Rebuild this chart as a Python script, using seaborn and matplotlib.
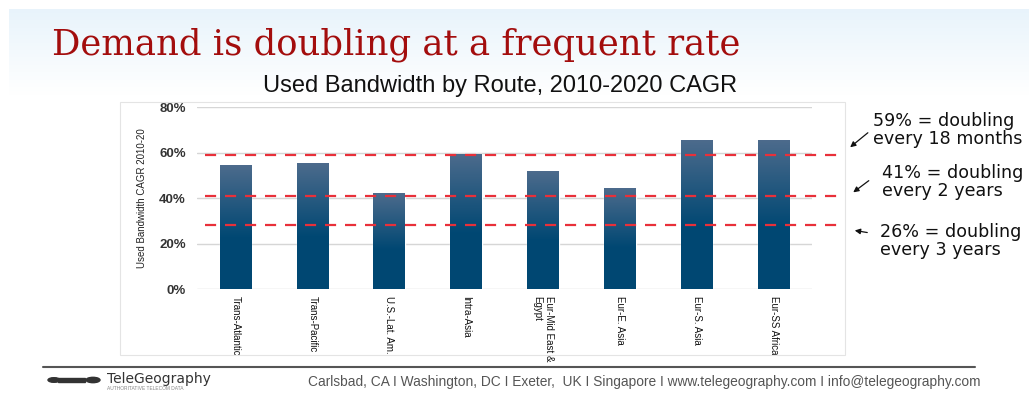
import numpy as np
import pandas as pd
import matplotlib
matplotlib.use("Agg")
import matplotlib.pyplot as plt
import seaborn as sns
from matplotlib.patches import Rectangle, Circle

routes = ["Trans-Atlantic", "Trans-Pacific", "U.S.-Lat. Am.", "Intra-Asia",
          "Eur-Mid East &\nEgypt", "Eur-E. Asia", "Eur-S. Asia", "Eur-SS Africa"]
cagr = [54.5, 55.2, 42.1, 59.2, 51.7, 44.3, 65.4, 65.4]
ref_levels = [59, 41, 28]
ref_labels = ["59% = doubling\nevery 18 months",
              "41% = doubling\nevery 2 years",
              "26% = doubling\nevery 3 years"]
y_ticks = [0, 20, 40, 60, 80]
y_ticklabels = ["0%", "20%", "40%", "60%", "80%"]

sns.set_theme(style="white")
plt.rcParams['font.family'] = ['Liberation Sans', 'DejaVu Sans']

W, H = 1029, 394
fig = plt.figure(figsize=(W / 100, H / 100), dpi=100)
fig.patch.set_facecolor("white")

# header gradient background
bg = fig.add_axes([9 / W, 1 - 95 / H, 1 - 9 / W, 86 / H])
grad = np.linspace(0, 1, 100)[:, None]
top = np.array([0.91, 0.955, 0.985])
bot = np.array([1.0, 1.0, 1.0])
img = top[None, None, :] * (1 - grad[:, :, None]) + bot[None, None, :] * grad[:, :, None]
img = np.repeat(img, 2, axis=1)
bg.imshow(img, aspect="auto", extent=[0, 1, 0, 1])
bg.set_axis_off()

# chart frame
fig.add_artist(Rectangle((120 / W, 1 - 355 / H), (845 - 120) / W, (355 - 102) / H,
                         transform=fig.transFigure, fill=False, ec="#e4e4e4", lw=0.8))

fig.text(52 / W, 1 - 45 / H, "Demand is doubling at a frequent rate",
         family="DejaVu Serif", fontsize=25.5, color="#a30d0d", va="center", ha="left")
fig.text(500 / W, 1 - 86 / H, "Used Bandwidth by Route, 2010-2020 CAGR",
         fontsize=17, color="#111111", va="center", ha="center")

ax = fig.add_axes([197 / W, 1 - 289 / H, 615 / W, 182 / H])
df = pd.DataFrame({"route": routes, "cagr": cagr})
sns.barplot(data=df, x="route", y="cagr", color="#07497a", width=0.41,
            saturation=1, ax=ax, zorder=3)
ax.set_ylim(0, 80)
ax.set_xlim(-0.5, len(routes) - 0.5)
ax.set_yticks(y_ticks)
ax.set_yticklabels(y_ticklabels, fontsize=9.5, fontweight="bold", color="#333333")
ax.set_xticks(range(len(routes)))
ax.set_xticklabels(routes, rotation=270, fontsize=7, color="#111111",
                   ha="center", va="top", multialignment="left")
ax.tick_params(axis="y", length=0, pad=8)
ax.tick_params(axis="x", length=0, pad=5)
ax.set_xlabel("")
ax.set_ylabel("Used Bandwidth CAGR 2010-20", fontsize=7, color="#222222", labelpad=9)
for s in ax.spines.values():
    s.set_visible(False)
for t in y_ticks:
    ax.axhline(t, color="#d6d6d6", lw=1, zorder=1)

# gradient fill on bars
grad_bar = np.clip(np.linspace(0, 1, 256) * 1.7, 0, 1)[:, None]
c_top = np.array([0.30, 0.42, 0.55])
c_bot = np.array([0.0, 0.28, 0.45])
gimg = c_top[None, None, :] * (1 - grad_bar[:, :, None]) + c_bot[None, None, :] * grad_bar[:, :, None]
for p in ax.patches:
    x0, y0 = p.get_x(), p.get_y()
    w, h = p.get_width(), p.get_height()
    im = ax.imshow(gimg, extent=[x0, x0 + w, y0, y0 + h], aspect="auto",
                   origin="upper", zorder=3.5)
    im.set_clip_path(p)
ax.set_xlim(-0.5, len(routes) - 0.5)
ax.set_ylim(0, 80)

# reference dashed lines extending beyond axes
for lv in ref_levels:
    ax.plot([0.013, 1.052], [lv, lv], transform=ax.get_yaxis_transform(),
            color="#e8303a", lw=1.6, ls=(0, (5, 4)), clip_on=False, zorder=5)

# annotations
ann_pos = [(873, 130), (882, 182), (880, 241)]
arrow_from = [(870, 131), (871, 179), (870, 233)]
arrow_to = [(848, 149), (851, 194), (852, 230)]
for lab, (tx, ty), (fx, fy), (ex, ey) in zip(ref_labels, ann_pos, arrow_from, arrow_to):
    fig.text(tx / W, 1 - ty / H, lab, fontsize=12.6, color="#111111",
             va="center", ha="left", linespacing=0.95, family="DejaVu Sans")
    ax.annotate("", xy=(ex / W, 1 - ey / H), xycoords="figure fraction",
                xytext=(fx / W, 1 - fy / H), textcoords="figure fraction",
                arrowprops=dict(arrowstyle="-|>", color="#111111", lw=0.9,
                                mutation_scale=8), annotation_clip=False)

# footer
fig.add_artist(plt.Line2D([43 / W, 975 / W], [1 - 367 / H, 1 - 367 / H],
                          transform=fig.transFigure, color="#555555", lw=1.5))
fig.add_artist(Circle((54 / W, 1 - 380 / H), 6 / W, transform=fig.transFigure,
                      color="#333333"))
fig.add_artist(Rectangle((58 / W, 1 - 382 / H), 27 / W, 4 / H,
                         transform=fig.transFigure, color="#333333"))
fig.add_artist(Circle((93 / W, 1 - 380 / H), 7 / W, transform=fig.transFigure,
                      color="#333333"))
fig.text(107 / W, 1 - 379 / H, "TeleGeography", fontsize=10, color="#333333",
         va="center", ha="left", family="DejaVu Sans")
fig.text(107 / W, 1 - 389 / H, "AUTHORITATIVE TELECOM DATA", fontsize=3.5,
         color="#888888", va="center", ha="left")
fig.text(308 / W, 1 - 382 / H,
         "Carlsbad, CA I Washington, DC I Exeter,  UK I Singapore I www.telegeography.com I info@telegeography.com",
         fontsize=9.9, color="#555555", va="center", ha="left")

fig.savefig("out.png", dpi=100, facecolor="white")
